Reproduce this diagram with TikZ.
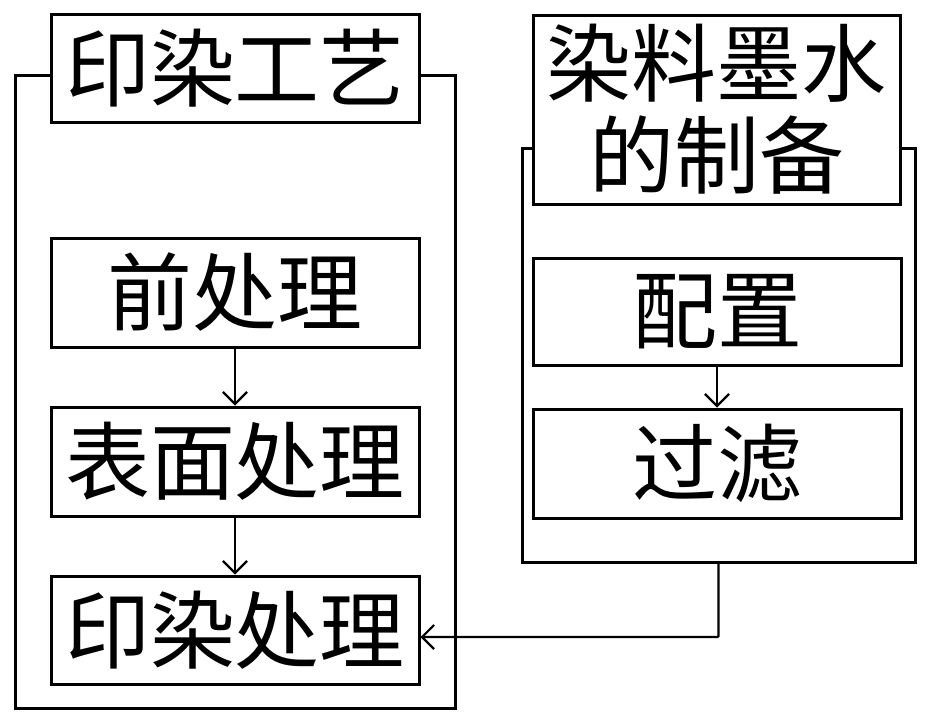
\documentclass[tikz,border=0pt]{standalone}
\usepackage{fontspec}
\newfontfamily\cjk{Noto Sans CJK SC}
\usepackage{tikz}
\usetikzlibrary{arrows.meta,positioning}

\begin{document}
\begin{tikzpicture}[x=1pt,y=-1pt,
  frame/.style={draw,line width=3pt,inner sep=0pt},
  stepbox/.style={draw,line width=3pt,fill=white,inner sep=0pt,minimum width=368pt,
    font=\cjk\fontsize{85}{92}\selectfont,align=center},
  flow/.style={line width=2.2pt,-{Straight Barb[length=12pt,width=24pt,line width=2.2pt]}}]
  \useasboundingbox (0,0) rectangle (930,724);
  % containers
  \node[frame,minimum width=440pt,minimum height=633pt] (print) at (235,391.5) {};
  \node[frame,minimum width=393pt,minimum height=414pt] (ink) at (718.5,355) {};
  % left column
  \node[stepbox,minimum height=108pt] (printT) at (235,68) {印染工艺};
  \node[stepbox,minimum height=109pt] (pre) at (235,292.5) {前处理};
  \node[stepbox,minimum height=109pt] (surf) at (235,461.5) {表面处理};
  \node[stepbox,minimum height=108pt] (dye) at (235,630) {印染处理};
  % right column
  \node[stepbox,minimum width=367pt,minimum height=189pt] (inkT) at (716.5,109.5) {染料墨水\\的制备};
  \node[stepbox,minimum height=107pt] (mix) at (717,311.5) {配置};
  \node[stepbox,minimum height=109pt] (filt) at (717,463.5) {过滤};
  \draw[flow] (pre) -- (surf);
  \draw[flow] (surf) -- (dye);
  \draw[flow] (mix) -- (filt);
  \draw[flow,rounded corners=1pt] (ink.south) |- ([yshift=-7pt]dye.east);
\end{tikzpicture}
\end{document}
